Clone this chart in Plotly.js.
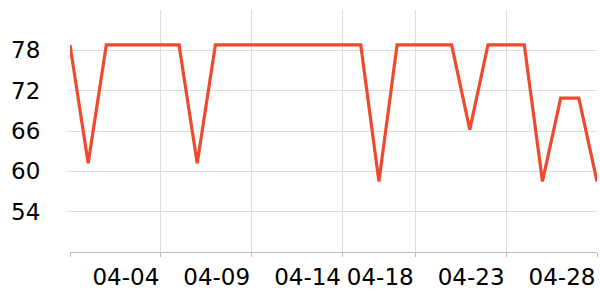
<!DOCTYPE html>
<html>
<head>
<meta charset="utf-8">
<script src="https://cdn.plot.ly/plotly-3.0.1.min.js"></script>
<style>html,body{margin:0;padding:0;background:#fff;}#chart{width:600px;height:300px;}</style>
</head>
<body>
<div id="chart"></div>
<script>
const dates = [
  "2024-03-30","2024-03-31","2024-04-01","2024-04-02","2024-04-03","2024-04-04",
  "2024-04-05","2024-04-06","2024-04-07","2024-04-08","2024-04-09","2024-04-10",
  "2024-04-11","2024-04-12","2024-04-13","2024-04-14","2024-04-15","2024-04-16",
  "2024-04-17","2024-04-18","2024-04-19","2024-04-20","2024-04-21","2024-04-22",
  "2024-04-23","2024-04-24","2024-04-25","2024-04-26","2024-04-27","2024-04-28"
];
const values = [
  78.8, 61.2, 78.8, 78.8, 78.8, 78.8,
  78.8, 61.2, 78.8, 78.8, 78.8, 78.8,
  78.8, 78.8, 78.8, 78.8, 78.8, 58.5,
  78.8, 78.8, 78.8, 78.8, 66.2, 78.8,
  78.8, 78.8, 58.5, 70.9, 70.9, 58.5
];
const xTickVals = ["2024-03-30","2024-04-04","2024-04-09","2024-04-14","2024-04-18","2024-04-23","2024-04-28"];
const xTickText = ["","04-04","04-09","04-14","04-18","04-23","04-28"];
const yTickVals = [54, 60, 66, 72, 78];

Plotly.newPlot("chart", [{
  x: dates,
  y: values,
  type: "scatter",
  mode: "lines",
  line: {color: "#ee4b2e", width: 3.2},
  hoverinfo: "skip"
}], {
  width: 600, height: 300,
  margin: {l: 70, r: 3, t: 10, b: 48},
  paper_bgcolor: "#fff", plot_bgcolor: "#fff",
  showlegend: false,
  font: {family: "DejaVu Sans", size: 23, color: "#000"},
  xaxis: {
    type: "date",
    range: ["2024-03-30", "2024-04-28"],
    tickmode: "array", tickvals: xTickVals, ticktext: xTickText,
    showgrid: true, gridcolor: "#dddddd", gridwidth: 1,
    showline: true, linecolor: "#bbbbbb", linewidth: 1,
    ticks: "outside", ticklen: 4, tickcolor: "#bbbbbb",
    ticklabelshift: -35,
    zeroline: false,
    tickfont: {family: "DejaVu Sans", size: 23, color: "#000"}
  },
  yaxis: {
    range: [48, 84],
    tickmode: "array", tickvals: yTickVals,
    showgrid: true, gridcolor: "#dddddd", gridwidth: 1,
    showline: false, zeroline: false,
    ticks: "outside", ticklen: 2, tickcolor: "#dddddd",
    ticklabelstandoff: 22,
    tickfont: {family: "DejaVu Sans", size: 23, color: "#000"}
  }
}, {displayModeBar: false, staticPlot: true});
</script>
</body>
</html>
